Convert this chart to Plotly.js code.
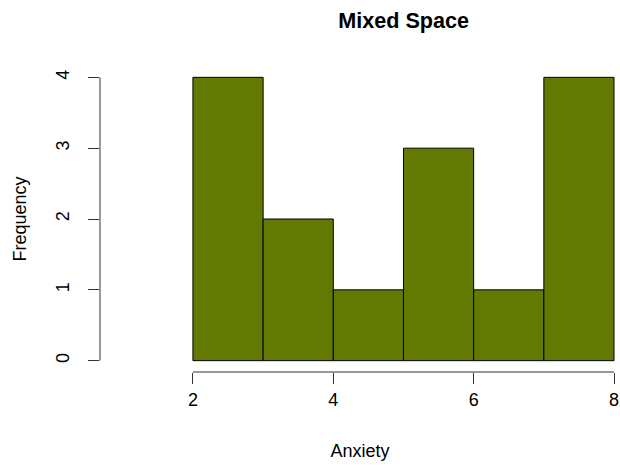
<!DOCTYPE html>
<html>
<head>
<meta charset="utf-8">
<script src="https://cdn.plot.ly/plotly-3.0.1.min.js"></script>
<style>html,body{margin:0;padding:0;background:#fff}#chart{width:620px;height:467px}</style>
</head>
<body>
<div id="chart"></div>
<script>
// Data
var binEdges = [2, 3, 4, 5, 6, 7, 8];
var counts = [4, 2, 1, 3, 1, 4];
var xTicks = [2, 4, 6, 8];
var yTicks = [0, 1, 2, 3, 4];
var chartTitle = "Mixed Space";
var xLabel = "Anxiety";
var yLabel = "Frequency";

var centers = [], widths = [];
for (var i = 0; i < counts.length; i++) {
  centers.push((binEdges[i] + binEdges[i + 1]) / 2);
  widths.push(binEdges[i + 1] - binEdges[i]);
}

var font = "Liberation Sans, Arial, Helvetica, sans-serif";
var axColor = "#333333";

var trace = {
  type: "bar",
  x: centers,
  y: counts,
  width: widths,
  marker: {color: "#637A02", line: {color: "#000000", width: 1}},
  hoverinfo: "x+y"
};

var xMin = Math.min.apply(null, xTicks), xMax = Math.max.apply(null, xTicks);
var yMin = Math.min.apply(null, yTicks), yMax = Math.max.apply(null, yTicks);

var layout = {
  width: 620, height: 467,
  margin: {l: 100, r: 0, t: 66, b: 95},
  paper_bgcolor: "#ffffff", plot_bgcolor: "#ffffff",
  showlegend: false,
  bargap: 0,
  font: {family: font, size: 18, color: "#000000"},
  title: {text: "<b>" + chartTitle + "</b>", x: 0.651, xanchor: "center", y: 0.957, yanchor: "middle",
          font: {family: font, size: 21.6, color: "#000000"}},
  xaxis: {
    range: [0.676, 8.085], showgrid: false, zeroline: false, showline: false,
    tickvals: xTicks, ticktext: xTicks.map(String), ticks: "outside", ticklen: 11, tickwidth: 1, tickcolor: axColor,
    ticklabelstandoff: 0,
    tickfont: {family: font, size: 18, color: "#000"},
    title: {text: xLabel, standoff: 35, font: {family: font, size: 18, color: "#000"}}
  },
  yaxis: {
    range: [-0.16, 4.16], showgrid: false, zeroline: false, showline: false,
    tickvals: yTicks, ticktext: yTicks.map(String), ticks: "outside", ticklen: 11, tickwidth: 1, tickcolor: axColor,
    tickangle: -90, ticklabelstandoff: 12,
    tickfont: {family: font, size: 18, color: "#000"},
    title: {text: yLabel, standoff: 21, font: {family: font, size: 18, color: "#000"}}
  },
  shapes: [
    {type: "line", xref: "x", yref: "paper", x0: xMin, x1: xMax, y0: 0, y1: 0, line: {color: axColor, width: 1}},
    {type: "line", xref: "paper", yref: "y", x0: 0, x1: 0, y0: yMin, y1: yMax, line: {color: axColor, width: 1}}
  ]
};

Plotly.newPlot("chart", [trace], layout, {displayModeBar: false, staticPlot: true});
</script>
</body>
</html>
